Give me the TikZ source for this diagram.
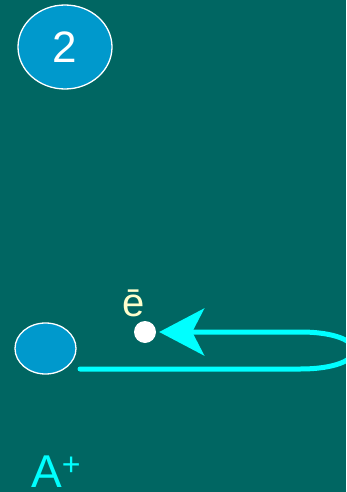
\documentclass[tikz,border=0pt]{standalone}
\usepackage{fontspec}
\setmainfont{Liberation Sans}
\definecolor{bgTeal}{RGB}{0,102,98}
\definecolor{ionBlue}{RGB}{0,153,204}
\definecolor{eYellow}{RGB}{255,255,204}
\definecolor{pathCyan}{RGB}{0,255,255}
\usetikzlibrary{arrows.meta,positioning,shapes.geometric}

\begin{document}
\begin{tikzpicture}[x=1pt,y=-1pt,
    ion/.style={ellipse, draw=white, line width=1.3pt, fill=ionBlue, inner sep=0pt},
    path/.style={pathCyan, line width=5pt, line cap=round}]
    % background
    \fill[bgTeal] (0,0) rectangle (346,492);
    \useasboundingbox (0,0) rectangle (346,492);
    \clip (0,0) rectangle (346,492);

    % step number
    \node[ion, minimum width=94pt, minimum height=84pt, text=white,
      font=\fontsize{44}{44}\selectfont] (stepnum) at (65,47) {2};

    % ion and electron
    \node[ion, minimum width=61pt, minimum height=51pt] (nucleus) at (45.5,348.5) {};
    \node[circle, fill=white, minimum size=22pt, inner sep=0pt] (electron) at (145,332) {};
    \node[eYellow, anchor=base, font=\fontsize{40}{40}\selectfont, inner sep=0pt]
      (elabel) at (134,316) {ē};

    % electron return path
    \coordinate (start) at (80,369);
    \coordinate (loopA) at (300,369);
    \coordinate (loopB) at (300,332);
    \draw[path, -{Stealth[length=45pt, width=47pt, inset=12pt]}, shorten >=3pt]
      (start) -- (loopA) .. controls (372,369) and (372,332) .. (loopB) -- (electron);

    % ion label
    \node[pathCyan, anchor=base west, inner sep=0pt, font=\fontsize{46}{46}\selectfont]
      (ionlabel) at (31,487) {A\raisebox{11.3pt}{\fontsize{32}{32}\selectfont +}};
\end{tikzpicture}
\end{document}
